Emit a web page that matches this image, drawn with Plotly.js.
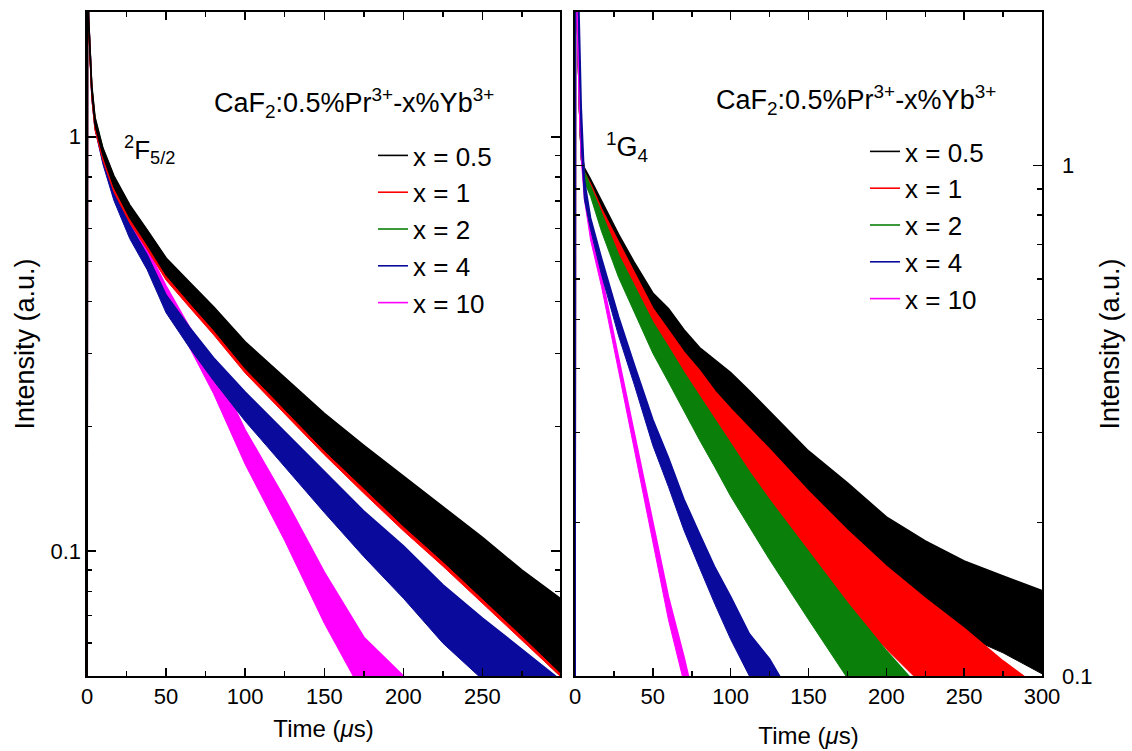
<!DOCTYPE html>
<html><head><meta charset="utf-8">
<script src="https://cdn.plot.ly/plotly-3.0.1.min.js"></script>
<style>html,body{margin:0;padding:0;background:#fff}#chart{width:1132px;height:751px}</style>
</head><body><div id="chart"></div>
<script>
// ---- labels / styles ----
const seriesLabels = ['x = 0.5', 'x = 1', 'x = 2', 'x = 4', 'x = 10'];
const seriesColors = ['#000000', '#ff0000', '#0a800a', '#0a0a9c', '#ff00ff'];
const yTickVals = [0.1, 1];
const yTickText = ['0.1', '1'];
const yMinorVals = [0.05, 0.06, 0.07, 0.08, 0.09, 0.2, 0.3, 0.4, 0.5, 0.6, 0.7, 0.8, 0.9, 2];

// ---- left panel: 2F5/2 decay (time in µs; upper / lower edge of the noisy trace) ----
const timeF = [0, 0.3, 1, 2, 3, 5, 10, 17, 27, 38, 50, 65, 80, 100, 125, 150, 175, 200, 225, 250, 275, 299];
const F_x05_hi = [0.02, 2.6, 1.93, 1.57, 1.33, 1.115, 0.94, 0.805, 0.685, 0.596, 0.51, 0.445, 0.389, 0.32, 0.262, 0.215, 0.18, 0.152, 0.128, 0.108, 0.09, 0.077];
const F_x05_lo = [0.02, 2.6, 1.87, 1.53, 1.27, 1.065, 0.9, 0.755, 0.636, 0.549, 0.463, 0.397, 0.342, 0.276, 0.22, 0.175, 0.142, 0.115, 0.0945, 0.077, 0.0625, 0.051];
const F_x1_hi = [0.02, 2.6, 1.9, 1.55, 1.31, 1.1, 0.926, 0.793, 0.675, 0.587, 0.502, 0.438, 0.383, 0.315, 0.258, 0.212, 0.177, 0.15, 0.126, 0.106, 0.089, 0.076];
const F_x1_lo = [0.02, 2.6, 1.82, 1.49, 1.24, 1.04, 0.878, 0.736, 0.62, 0.535, 0.451, 0.387, 0.333, 0.269, 0.215, 0.171, 0.138, 0.112, 0.092, 0.075, 0.061, 0.05];
const F_x2_hi = [0.02, 2.6, 1.92, 1.56, 1.32, 1.11, 0.935, 0.8, 0.68, 0.593, 0.507, 0.443, 0.387, 0.318, 0.261, 0.214, 0.179, 0.151, 0.127, 0.107, 0.0895, 0.0766];
const F_x2_lo = [0.02, 2.6, 1.84, 1.51, 1.25, 1.05, 0.887, 0.744, 0.626, 0.541, 0.456, 0.391, 0.337, 0.272, 0.217, 0.172, 0.14, 0.113, 0.093, 0.076, 0.0615, 0.05];
const F_x4_hi = [0.02, 2.6, 1.94, 1.53, 1.3, 1.095, 0.9, 0.749, 0.612, 0.519, 0.415, 0.346, 0.293, 0.242, 0.194, 0.156, 0.125, 0.103, 0.083, 0.069, 0.058, 0.049];
const F_x4_lo = [0.02, 2.6, 1.86, 1.47, 1.24, 1.046, 0.86, 0.702, 0.568, 0.478, 0.376, 0.309, 0.258, 0.206, 0.16, 0.124, 0.097, 0.077, 0.06, 0.049, 0.04, 0.033];
const F_x10_hi = [0.02, 2.6, 1.94, 1.53, 1.3, 1.095, 0.91, 0.764, 0.632, 0.537, 0.436, 0.346, 0.282, 0.196, 0.134, 0.089, 0.062, 0.05, 0.033, 0.024, 0.018, 0.013];
const F_x10_lo = [0.02, 2.6, 1.86, 1.47, 1.24, 1.046, 0.87, 0.717, 0.593, 0.494, 0.395, 0.309, 0.24, 0.162, 0.106, 0.067, 0.045, 0.03, 0.022, 0.016, 0.012, 0.009];

// ---- right panel: 1G4 decay ----
const timeG = [0, 0.3, 1, 2, 3, 4, 6, 10, 17, 28, 38, 50, 60, 70, 80, 90, 100, 112, 125, 150, 175, 200, 225, 250, 275, 300];
const G_x05_hi = [0.02, 4, 2.24, 1.63, 1.28, 1.07, 0.99, 0.94, 0.851, 0.733, 0.647, 0.563, 0.525, 0.477, 0.44, 0.415, 0.393, 0.362, 0.33, 0.276, 0.239, 0.205, 0.184, 0.168, 0.157, 0.147];
const G_x05_lo = [0.02, 4, 2.16, 1.57, 1.22, 1.03, 0.95, 0.9, 0.79, 0.669, 0.585, 0.499, 0.457, 0.415, 0.382, 0.357, 0.333, 0.301, 0.269, 0.217, 0.184, 0.154, 0.134, 0.12, 0.111, 0.101];
const G_x1_hi = [0.02, 4, 2.24, 1.63, 1.28, 1.07, 0.97, 0.92, 0.823, 0.708, 0.616, 0.525, 0.476, 0.431, 0.397, 0.361, 0.334, 0.306, 0.278, 0.23, 0.193, 0.164, 0.142, 0.124, 0.107, 0.094];
const G_x1_lo = [0.02, 4, 2.16, 1.57, 1.22, 1.03, 0.93, 0.88, 0.758, 0.64, 0.546, 0.457, 0.407, 0.362, 0.327, 0.292, 0.266, 0.239, 0.213, 0.17, 0.137, 0.113, 0.095, 0.081, 0.069, 0.06];
const G_x2_hi = [0.02, 4, 2.24, 1.63, 1.28, 1.07, 0.97, 0.91, 0.808, 0.668, 0.582, 0.493, 0.441, 0.393, 0.353, 0.317, 0.284, 0.251, 0.221, 0.175, 0.139, 0.112, 0.092, 0.074, 0.061, 0.05];
const G_x2_lo = [0.02, 4, 2.16, 1.57, 1.22, 1.03, 0.93, 0.87, 0.744, 0.604, 0.516, 0.429, 0.377, 0.33, 0.29, 0.256, 0.225, 0.196, 0.169, 0.129, 0.099, 0.077, 0.061, 0.049, 0.039, 0.032];
const G_x4_hi = [0.02, 4, 3.2, 2.35, 1.72, 1.3, 0.94, 0.79, 0.659, 0.506, 0.408, 0.318, 0.268, 0.222, 0.19, 0.163, 0.143, 0.121, 0.108, 0.08, 0.062, 0.047, 0.037, 0.029, 0.022, 0.018];
const G_x4_lo = [0.02, 4, 2.8, 2.05, 1.48, 1.1, 0.86, 0.75, 0.612, 0.464, 0.373, 0.283, 0.235, 0.193, 0.163, 0.138, 0.118, 0.1, 0.087, 0.064, 0.049, 0.037, 0.029, 0.023, 0.018, 0.014];
const G_x10_hi = [0.02, 4, 2.24, 1.63, 1.28, 1.07, 0.9, 0.745, 0.61, 0.42, 0.3, 0.198, 0.143, 0.109, 0.08, 0.059, 0.043, 0.031, 0.023, 0.0125, 0.0066, 0.0039, 0.002, 0.0011, 0.0007, 0.0004];
const G_x10_lo = [0.02, 4, 2.16, 1.57, 1.22, 1.03, 0.86, 0.715, 0.58, 0.396, 0.28, 0.182, 0.129, 0.097, 0.07, 0.051, 0.037, 0.027, 0.019, 0.0105, 0.0054, 0.0031, 0.0016, 0.0009, 0.0005, 0.0003];

const FONT = 'Liberation Sans, Arial, Helvetica, sans-serif';

function band(t, hi, lo, idx, xa, ya, legendId) {
  const c = seriesColors[idx];
  return [
    {x: t, y: hi, mode: 'lines', line: {color: c, width: 1.6}, name: seriesLabels[idx],
     legend: legendId, legendrank: idx + 1, xaxis: xa, yaxis: ya, hoverinfo: 'x+y+name'},
    {x: t, y: lo, mode: 'lines', line: {color: c, width: 1}, fill: 'tonexty', fillcolor: c,
     showlegend: false, name: seriesLabels[idx], xaxis: xa, yaxis: ya, hoverinfo: 'x+y+name'}
  ];
}

const leftSets = [[F_x05_hi, F_x05_lo], [F_x1_hi, F_x1_lo], [F_x2_hi, F_x2_lo], [F_x4_hi, F_x4_lo], [F_x10_hi, F_x10_lo]];
const rightSets = [[G_x05_hi, G_x05_lo], [G_x1_hi, G_x1_lo], [G_x2_hi, G_x2_lo], [G_x4_hi, G_x4_lo], [G_x10_hi, G_x10_lo]];

let traces = [];
[4, 3, 2, 1, 0].forEach(i => { traces = traces.concat(band(timeF, leftSets[i][0], leftSets[i][1], i, 'x', 'y', 'legend')); });
[0, 1, 2, 4, 3].forEach(i => { traces = traces.concat(band(timeG, rightSets[i][0], rightSets[i][1], i, 'x2', 'y2', 'legend2')); });

const W = 1132, H = 751;
const yDom = [1 - 676 / H, 1 - 12 / H];

function xAxis(dom, rng, anchor, standoff) {
  return {
    domain: dom, range: rng, anchor: anchor, dtick: 50, tick0: 0,
    ticks: 'inside', ticklen: 8, tickwidth: 1.5, tickcolor: '#000',
    minor: {dtick: 25, tick0: 0, ticks: 'inside', ticklen: 5, tickwidth: 1.5, tickcolor: '#000'},
    showline: true, linewidth: 1.6, linecolor: '#000', mirror: 'ticks',
    showgrid: false, zeroline: false,
    tickfont: {family: FONT, size: 22, color: '#000'},
    title: {text: 'Time (<i>μ</i>s)', font: {family: FONT, size: 24, color: '#000'}, standoff: standoff},
    automargin: false
  };
}
function yAxis(rng, anchor, side, labelStandoff) {
  return {
    domain: yDom, type: 'log', range: rng, anchor: anchor, side: side,
    tickmode: 'array', tickvals: yTickVals, ticktext: yTickText,
    ticks: 'inside', ticklen: 9, tickwidth: 1.5, tickcolor: '#000',
    minor: {tickmode: 'array', tickvals: yMinorVals, ticks: 'inside', ticklen: 5, tickwidth: 1.5, tickcolor: '#000'},
    showline: true, linewidth: 1.6, linecolor: '#000', mirror: 'ticks',
    showgrid: false, zeroline: false, ticklabelstandoff: labelStandoff,
    tickfont: {family: FONT, size: 22, color: '#000'},
    title: {text: 'Intensity (a.u.)', font: {family: FONT, size: 27, color: '#000'}, standoff: 8},
    automargin: false
  };
}

const legendBase = {
  xanchor: 'left', yanchor: 'top', bgcolor: 'rgba(0,0,0,0)', borderwidth: 0, traceorder: 'normal',
  font: {family: FONT, size: 26, color: '#000'}, tracegroupgap: 0, itemwidth: 30
};

const layout = {
  width: W, height: H,
  margin: {l: 0, r: 0, t: 0, b: 0},
  paper_bgcolor: '#fff', plot_bgcolor: '#fff',
  font: {family: FONT, color: '#000'},
  xaxis: xAxis([87 / W, 560 / W], [0, 299], 'y', 12),
  yaxis: yAxis([Math.log10(0.05), Math.log10(2)], 'x', 'left', 0),
  xaxis2: xAxis([575 / W, 1042 / W], [0, 300], 'y2', 19),
  yaxis2: yAxis([Math.log10(0.1), Math.log10(2)], 'x2', 'right', 14),
  legend: Object.assign({x: 373 / W, y: 1 - 132 / H}, legendBase),
  legend2: Object.assign({x: 865 / W, y: 1 - 128 / H}, legendBase),
  annotations: [
    {xref: 'paper', yref: 'paper', x: 354 / W, y: 1 - 103 / H, xanchor: 'center', yanchor: 'middle', showarrow: false,
     text: 'CaF<sub>2</sub>:0.5%Pr<sup>3+</sup>-x%Yb<sup>3+</sup>', font: {family: FONT, size: 27, color: '#000'}},
    {xref: 'paper', yref: 'paper', x: 856 / W, y: 1 - 100 / H, xanchor: 'center', yanchor: 'middle', showarrow: false,
     text: 'CaF<sub>2</sub>:0.5%Pr<sup>3+</sup>-x%Yb<sup>3+</sup>', font: {family: FONT, size: 27, color: '#000'}},
    {xref: 'paper', yref: 'paper', x: 122 / W, y: 1 - 150 / H, xanchor: 'left', yanchor: 'middle', showarrow: false,
     text: '<sup>2</sup>F<sub>5/2</sub>', font: {family: FONT, size: 26, color: '#000'}},
    {xref: 'paper', yref: 'paper', x: 604 / W, y: 1 - 147 / H, xanchor: 'left', yanchor: 'middle', showarrow: false,
     text: '<sup>1</sup>G<sub>4</sub>', font: {family: FONT, size: 27, color: '#000'}}
  ]
};

Plotly.newPlot('chart', traces, layout, {displayModeBar: false, staticPlot: true});
</script>
</body></html>
